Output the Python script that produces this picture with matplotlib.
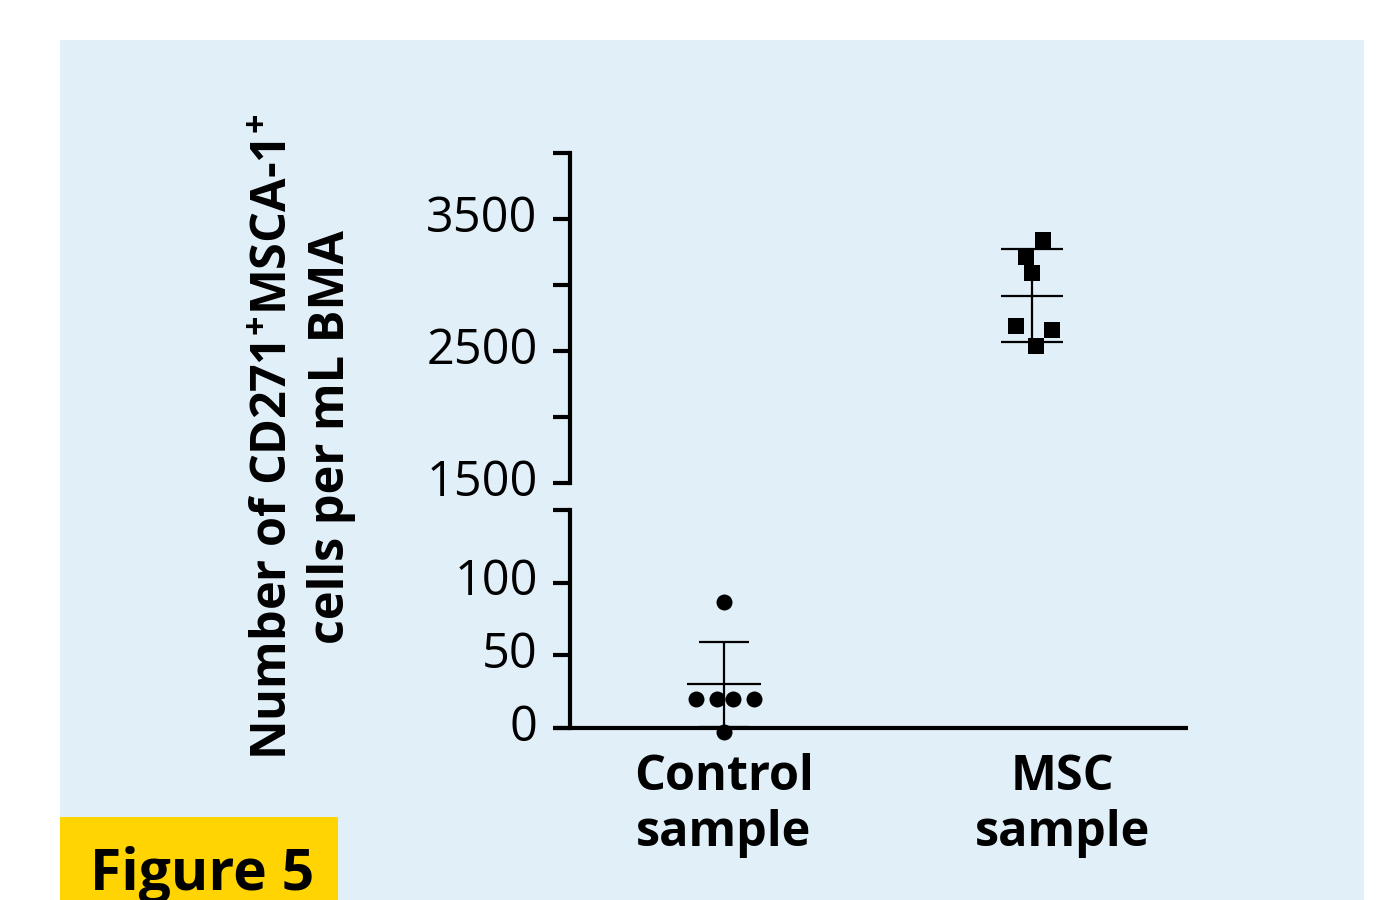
import matplotlib
matplotlib.use("Agg")
import matplotlib.pyplot as plt
from matplotlib.patches import Rectangle

# values
groups = ["Control\nsample", "MSC\nsample"]
control_values = [87, 20, 20, 20, 20, -3]
msc_values = [3340, 3210, 3090, 2690, 2660, 2540]
group_means = [30, 2920]
group_sds = [29, 350]

# horizontal scatter of the dots around each group centre (layout only)
control_jitter = [0.0, -0.091, -0.023, 0.029, 0.097, 0.0]
msc_jitter = [0.036, -0.019, 0.0, -0.052, 0.065, 0.013]

low_ticks = [0, 50, 100, 150]
low_labels = ["0", "50", "100", ""]
high_ticks = [1500, 2000, 2500, 3000, 3500, 4000]
high_labels = ["1500", "", "2500", "", "3500", ""]

plt.rcParams["font.family"] = ["Open Sans", "DejaVu Sans"]
plt.rcParams["mathtext.fontset"] = "custom"
plt.rcParams["mathtext.rm"] = "Open Sans"
plt.rcParams["mathtext.bf"] = "Open Sans:bold"

W, H = 1380, 900
fig = plt.figure(figsize=(W / 100, H / 100), dpi=100)
fig.patch.set_facecolor("white")

panel = "#e1eff8"
fig.add_artist(Rectangle((60 / W, 0), 1304 / W, 860 / H, transform=fig.transFigure,
                         facecolor=panel, edgecolor="none", zorder=0))
fig.add_artist(Rectangle((60 / W, 0), 278 / W, 83 / H, transform=fig.transFigure,
                         facecolor="#ffd400", edgecolor="none", zorder=1))
fig.text(90 / W, 10 / H, "Figure 5", fontsize=41, fontweight="bold",
         ha="left", va="baseline", zorder=2)


def px_box(left, top, right, bottom):
    return [left / W, 1 - bottom / H, (right - left) / W, (bottom - top) / H]


ax_hi = fig.add_axes(px_box(553, 153, 1188, 483))
ax_lo = fig.add_axes(px_box(553, 510, 1188, 728))

xlim = (-0.555, 1.506)
spine_lw = 3.0
for ax in (ax_hi, ax_lo):
    ax.set_facecolor("none")
    ax.set_xlim(*xlim)
    ax.spines["top"].set_visible(False)
    ax.spines["right"].set_visible(False)
    ax.spines["left"].set_position(("data", -0.5))
    ax.spines["left"].set_linewidth(spine_lw)
    ax.spines["bottom"].set_linewidth(spine_lw)
    ax.tick_params(axis="y", length=12.2, width=spine_lw, pad=11, labelsize=35)

ax_hi.spines["bottom"].set_visible(False)
ax_hi.set_xticks([])
ax_hi.set_ylim(1500, 4000)
ax_hi.set_yticks(high_ticks)
ax_hi.set_yticklabels(high_labels)
for lab in ax_hi.get_yticklabels():
    lab.set_va("center")

ax_lo.set_ylim(0, 150)
ax_lo.set_yticks(low_ticks)
ax_lo.set_yticklabels(low_labels)
for lab in ax_lo.get_yticklabels():
    lab.set_va("center")
ax_lo.spines["bottom"].set_capstyle("butt")
ax_lo.set_xticks([0.0, 1.1])
ax_lo.set_xticklabels(groups, fontsize=35, fontweight="bold", linespacing=1.2)
ax_lo.tick_params(axis="x", length=0, pad=18)

# mean +/- SD bars, then points on top
mean_width = [0.24, 0.2]
cap_width = [0.16, 0.2]
err_lw = 1.6
for ax, i in ((ax_lo, 0), (ax_hi, 1)):
    m, s = group_means[i], group_sds[i]
    ax.vlines(i, m - s, m + s, color="black", lw=err_lw, zorder=2)
    ax.hlines(m, i - mean_width[i] / 2, i + mean_width[i] / 2, color="black", lw=err_lw, zorder=2)
    ax.hlines([m - s, m + s], i - cap_width[i] / 2, i + cap_width[i] / 2, color="black",
              lw=err_lw, zorder=2)

ax_lo.plot([0 + j for j in control_jitter], control_values, "o", color="black",
           markersize=11.5, markeredgewidth=0, clip_on=False, zorder=3)
ax_hi.plot([1 + j for j in msc_jitter], msc_values, "s", color="black",
           markersize=11.5, markeredgewidth=0, clip_on=False, zorder=3)

fig.text(303 / W, 1 - 437 / H,
         "Number of CD271$^{\\mathbf{+}}$MSCA-1$^{\\mathbf{+}}$\ncells per mL BMA",
         rotation=90, ha="center", va="center", multialignment="center",
         fontsize=35, fontweight="bold", linespacing=1.2)

fig.savefig("out.png", dpi=100, facecolor=fig.get_facecolor())
